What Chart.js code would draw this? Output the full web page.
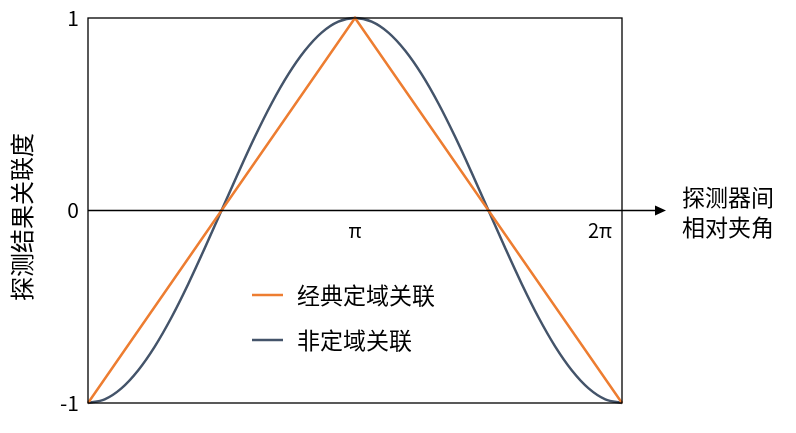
<!DOCTYPE html>
<html><head><meta charset="utf-8">
<script src="https://cdn.jsdelivr.net/npm/chart.js@4"></script>
<style>html,body{margin:0;padding:0;background:#fff;}canvas{display:block;}</style>
</head><body>
<canvas id="c" width="796" height="433"></canvas>
<script>
// x in units of π
const xBlue = [0,0.0625,0.125,0.1875,0.25,0.3125,0.375,0.4375,0.5,0.5625,0.625,0.6875,0.75,0.8125,0.875,0.9375,1,
  1.0625,1.125,1.1875,1.25,1.3125,1.375,1.4375,1.5,1.5625,1.625,1.6875,1.75,1.8125,1.875,1.9375,2];
const yBlue = [-1,-0.981,-0.924,-0.831,-0.707,-0.556,-0.383,-0.195,0,0.195,0.383,0.556,0.707,0.831,0.924,0.981,1,
  0.981,0.924,0.831,0.707,0.556,0.383,0.195,0,-0.195,-0.383,-0.556,-0.707,-0.831,-0.924,-0.981,-1];
const xOrange = [0,1,2];
const yOrange = [-1,1,-1];
const yTicks = [1,0,-1];
const xTickVals = [1,2];
const xTickLabels = ['π','2π'];
const seriesNames = ['经典定域关联','非定域关联'];
const yTitle = '探测结果关联度';
const xTitle = ['探测器间','相对夹角'];
const ORANGE = '#ED7D31', BLUE = '#44546A';
const FONT = '"Noto Sans CJK SC", "Noto Sans", sans-serif';

const deco = {
  id:'deco',
  afterDraw(chart){
    const {ctx, chartArea:a, scales:{x,y}} = chart;
    ctx.save();
    ctx.strokeStyle = '#000'; ctx.lineWidth = 1.3;
    ctx.strokeRect(a.left, a.top, a.right-a.left, a.bottom-a.top);
    const y0 = y.getPixelForValue(0);
    ctx.beginPath(); ctx.moveTo(a.left, y0); ctx.lineTo(657, y0); ctx.stroke();
    ctx.fillStyle = '#000';
    ctx.beginPath(); ctx.moveTo(666, y0); ctx.lineTo(655, y0-5); ctx.lineTo(655, y0+5); ctx.closePath(); ctx.fill();
    // y ticks
    ctx.font = '21px ' + FONT; ctx.textAlign='right'; ctx.textBaseline='middle';
    yTicks.forEach(v=>ctx.fillText(String(v), 79, y.getPixelForValue(v)));
    // x ticks
    ctx.textAlign='center'; ctx.textBaseline='middle'; ctx.font = '20px ' + FONT;
    xTickVals.forEach((v,i)=>{
      let px = x.getPixelForValue(v);
      if (i===1) px -= 22;
      ctx.fillText(xTickLabels[i], px, y0+20);
    });
    // x title
    ctx.font = '23px ' + FONT; ctx.textAlign='left';
    ctx.fillText(xTitle[0], 682, 197);
    ctx.fillText(xTitle[1], 682, 227);
    // y title
    ctx.save(); ctx.translate(22, 217); ctx.rotate(-Math.PI/2);
    ctx.textAlign='center'; ctx.font = '24px ' + FONT; ctx.fillText(yTitle, 0, 0); ctx.restore();
    // legend
    chart.data.datasets.forEach((ds,i)=>{
      const ly = i===0 ? 295 : 340;
      ctx.strokeStyle = ds.borderColor; ctx.lineWidth = 2.5;
      ctx.beginPath(); ctx.moveTo(252, ly); ctx.lineTo(283, ly); ctx.stroke();
      ctx.fillStyle='#000'; ctx.font='23px '+FONT; ctx.textAlign='left';
      ctx.fillText(ds.label, 297, ly);
    });
    ctx.restore();
  }
};

new Chart(document.getElementById('c'), {
  type:'line',
  data:{datasets:[
    {label:seriesNames[0], data:xOrange.map((v,i)=>({x:v,y:yOrange[i]})), borderColor:ORANGE, borderWidth:2.5, pointRadius:0, tension:0, clip:false},
    {label:seriesNames[1], data:xBlue.map((v,i)=>({x:v,y:yBlue[i]})), borderColor:BLUE, borderWidth:2.5, pointRadius:0, cubicInterpolationMode:'monotone', clip:false}
  ]},
  options:{
    responsive:false, animation:false, devicePixelRatio:1,
    layout:{padding:{left:88,top:18,right:174,bottom:30}},
    plugins:{legend:{display:false}, tooltip:{enabled:false}},
    scales:{
      x:{type:'linear', min:0, max:2, display:false},
      y:{type:'linear', min:-1, max:1, display:false}
    }
  },
  plugins:[deco]
});
</script>
</body></html>
